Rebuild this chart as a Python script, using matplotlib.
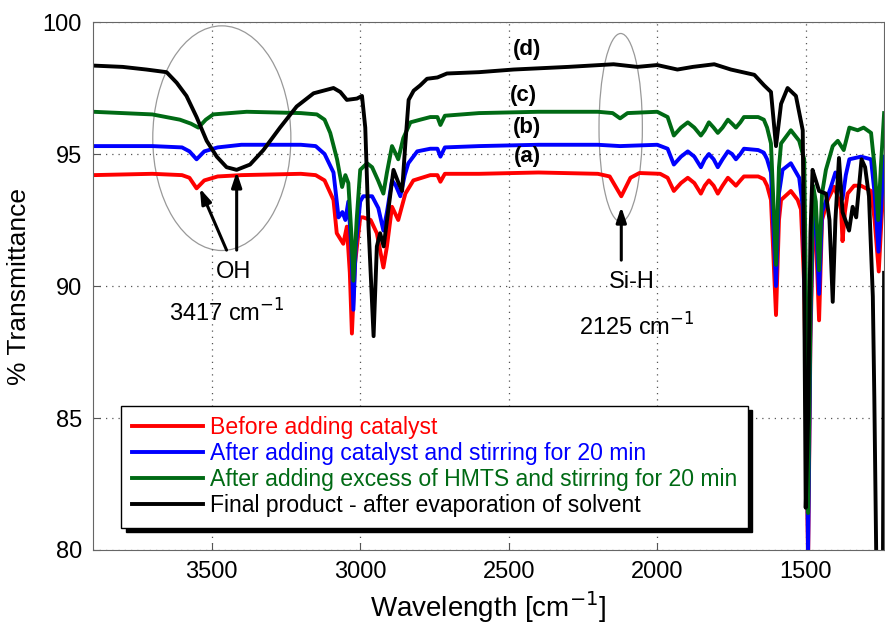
import matplotlib
matplotlib.use("Agg")
import matplotlib.pyplot as plt
from matplotlib.patches import Ellipse

plt.rcParams['font.family'] = ['Liberation Sans', 'DejaVu Sans']

# (a) before adding catalyst
wn_a = [3900, 3700, 3600, 3575, 3551, 3525, 3480, 3400, 3200, 3150, 3120, 3090, 3079, 3057, 3045,
        3035, 3028, 3018, 3000, 2990, 2965, 2944, 2922, 2910, 2893, 2872, 2848, 2821, 2764, 2740,
        2730, 2715, 2600, 2400, 2200, 2160, 2121, 2090, 2060, 1990, 1965, 1944, 1920, 1897, 1875,
        1853, 1840, 1826, 1810, 1796, 1780, 1762, 1748, 1735, 1720, 1708, 1660, 1641, 1630, 1617,
        1600, 1590, 1583, 1550, 1527, 1516, 1505, 1492, 1484, 1475, 1466, 1455, 1445, 1426, 1404,
        1390, 1381, 1376, 1368, 1359, 1337, 1314, 1280, 1268, 1254, 1245, 1236]
tr_a = [94.2, 94.25, 94.2, 94.1, 93.7, 94.0, 94.15, 94.2, 94.25, 94.2, 94.0, 93.26, 92.0, 91.6, 92.25,
        90.5, 88.2, 90.8, 92.6, 92.6, 92.5, 92.0, 90.7, 91.5, 93.0, 92.5, 93.5, 94.0, 94.2, 94.2,
        93.95, 94.25, 94.25, 94.3, 94.25, 94.15, 93.4, 94.1, 94.28, 94.25, 94.1, 93.6, 93.9, 94.1, 93.9,
        93.5, 93.8, 94.0, 93.8, 93.5, 93.8, 94.1, 93.95, 93.8, 94.0, 94.15, 94.15, 94.05, 93.8, 93.26,
        88.9, 92.5, 93.26, 93.6, 93.26, 92.9, 90.0, 79.5, 88.0, 92.3, 92.0, 88.7, 92.5, 93.26, 93.76,
        93.3, 92.9, 91.7, 92.8, 93.5, 93.8, 93.8, 93.6, 92.5, 90.55, 92.5, 94.0]

# (b) after adding catalyst and stirring
wn_b = [3900, 3700, 3600, 3575, 3551, 3525, 3480, 3400, 3200, 3150, 3120, 3090, 3073, 3060, 3050,
        3040, 3030, 3023, 3015, 3000, 2990, 2960, 2939, 2922, 2910, 2893, 2880, 2865, 2850, 2838,
        2808, 2764, 2740, 2730, 2715, 2600, 2400, 2200, 2125, 2000, 1965, 1944, 1920, 1897, 1875,
        1853, 1840, 1826, 1810, 1796, 1780, 1762, 1748, 1735, 1720, 1708, 1660, 1641, 1630, 1617,
        1600, 1590, 1578, 1550, 1522, 1510, 1500, 1492, 1484, 1475, 1466, 1455, 1445, 1415, 1400,
        1385, 1376, 1365, 1353, 1314, 1280, 1268, 1255, 1246, 1236]
tr_b = [95.3, 95.3, 95.25, 95.1, 94.8, 95.1, 95.25, 95.35, 95.35, 95.3, 95.0, 94.3, 92.6, 92.8, 92.5,
        93.2, 91.5, 89.1, 91.5, 93.2, 93.4, 93.4, 92.95, 92.1, 92.8, 94.0, 93.8, 93.4, 94.2, 94.65,
        95.1, 95.2, 95.2, 94.9, 95.25, 95.3, 95.35, 95.35, 95.3, 95.35, 95.2, 94.6, 94.9, 95.1, 94.9,
        94.5, 94.8, 95.0, 94.8, 94.5, 94.8, 95.1, 95.0, 94.8, 95.0, 95.2, 95.15, 95.05, 94.8, 94.3,
        90.0, 93.5, 94.4, 94.65, 94.1, 93.0, 88.0, 79.8, 88.5, 93.0, 92.6, 89.7, 92.8, 93.76, 94.3,
        93.9, 93.3, 94.2, 94.8, 94.9, 94.8, 93.5, 91.3, 93.0, 94.9]

# (c) after adding excess of HMTS
wn_c = [3900, 3700, 3607, 3570, 3545, 3520, 3495, 3382, 3200, 3146, 3120, 3101, 3078, 3061, 3050,
        3040, 3030, 3023, 3012, 3000, 2977, 2960, 2940, 2922, 2910, 2893, 2880, 2872, 2855, 2831,
        2798, 2764, 2740, 2730, 2715, 2600, 2400, 2200, 2150, 2125, 2100, 2000, 1965, 1944, 1920,
        1897, 1875, 1853, 1840, 1826, 1810, 1796, 1780, 1762, 1748, 1735, 1720, 1708, 1660, 1641,
        1630, 1617, 1600, 1590, 1583, 1550, 1522, 1505, 1497, 1492, 1484, 1475, 1466, 1455, 1445,
        1432, 1409, 1392, 1372, 1353, 1325, 1305, 1280, 1268, 1256, 1247, 1236]
tr_c = [96.6, 96.5, 96.3, 96.15, 96.0, 96.3, 96.5, 96.6, 96.55, 96.5, 96.3, 95.8, 94.8, 93.75, 94.2,
        93.9, 92.0, 90.2, 92.5, 94.4, 94.65, 94.5, 94.0, 93.5, 94.3, 95.3, 95.0, 94.8, 95.6, 96.2,
        96.3, 96.4, 96.4, 96.1, 96.45, 96.55, 96.6, 96.6, 96.55, 96.35, 96.55, 96.6, 96.4, 95.7, 96.0,
        96.2, 96.0, 95.7, 95.9, 96.2, 96.0, 95.8, 96.0, 96.3, 96.15, 96.0, 96.2, 96.4, 96.4, 96.3,
        96.0, 95.4, 90.8, 94.5, 95.4, 95.9, 95.5, 94.8, 88.0, 81.4, 89.0, 93.8, 93.2, 90.6, 93.5,
        94.4, 95.3, 95.5, 95.15, 96.0, 95.9, 96.0, 95.8, 94.5, 92.5, 94.5, 96.55]

# (d) final product
wn_d = [3900, 3800, 3720, 3652, 3618, 3585, 3551, 3517, 3483, 3450, 3416, 3371, 3326, 3270, 3214,
        3157, 3090, 3067, 3045, 3011, 2994, 2983, 2972, 2955, 2944, 2933, 2921, 2904, 2888, 2871,
        2859, 2848, 2837, 2820, 2798, 2775, 2740, 2708, 2600, 2484, 2300, 2147, 2067, 2000, 1932,
        1880, 1808, 1752, 1673, 1640, 1617, 1600, 1583, 1561, 1533, 1510, 1505, 1500, 1492, 1484,
        1477, 1466, 1455, 1432, 1420, 1409, 1400, 1388, 1376, 1354, 1342, 1330, 1312, 1300, 1287,
        1274, 1269, 1262, 1248, 1240, 1236]
tr_d = [98.35, 98.3, 98.2, 98.1, 97.7, 97.2, 96.4, 95.5, 94.9, 94.5, 94.4, 94.6, 95.15, 96.0, 96.8,
        97.3, 97.5, 97.35, 97.05, 97.1, 97.2, 96.0, 92.25, 88.1, 91.5, 92.0, 91.5, 93.0, 94.4, 93.9,
        93.6, 95.4, 97.05, 97.4, 97.6, 97.85, 97.9, 98.05, 98.1, 98.2, 98.3, 98.4, 98.3, 98.37, 98.2,
        98.3, 98.4, 98.2, 98.0, 97.6, 97.35, 95.3, 96.9, 97.5, 97.2, 95.9, 90.0, 81.6, 85.0, 92.0,
        94.4, 94.0, 93.6, 93.5, 92.5, 89.4, 92.5, 94.85, 92.8, 92.1, 93.0, 92.6, 94.8, 94.5, 93.4,
        89.6, 85.8, 79.3, 79.0, 79.3, 90.5]

labels = ['Before adding catalyst',
          'After adding catalyst and stirring for 20 min',
          'After adding excess of HMTS and stirring for 20 min',
          'Final product - after evaporation of solvent']
colors = ['#ff0000', '#0000ff', '#006a14', '#000000']
curve_tags = ['(a)', '(b)', '(c)', '(d)']
tag_pos = [(2437, 94.9), (2437, 96.0), (2450, 97.23), (2437, 98.94)]

fig = plt.figure(figsize=(8.85, 6.29), dpi=100)
ax = fig.add_axes([0.105, 0.1256, 0.894, 0.8394])

for wn, tr, c, lab in zip([wn_a, wn_b, wn_c, wn_d], [tr_a, tr_b, tr_c, tr_d], colors, labels):
    ax.plot(wn, tr, color=c, lw=2.8, label=lab, solid_joinstyle='round')

ax.set_xlim(3900, 1236)
ax.set_ylim(80, 100)
ax.set_xticks([3500, 3000, 2500, 2000, 1500])
ax.set_yticks([80, 85, 90, 95, 100])
ax.grid(True, ls=(0, (1, 4)), color='#555555', lw=0.9)
ax.tick_params(direction='in', labelsize=17, length=5, color='#555555', pad=8)
for s in ax.spines.values():
    s.set_color('#666666')
ax.set_xlabel('Wavelength [cm$^{-1}$]', fontsize=20, labelpad=4)
ax.set_ylabel('% Transmittance', fontsize=19, labelpad=8)

for tag, (x, y) in zip(curve_tags, tag_pos):
    ax.text(x, y, tag, fontsize=16, fontweight='bold', ha='center', va='center')

# circled regions
ax.add_patch(Ellipse((3466, 95.6), 465, 8.51, fill=False, ec='#999999', lw=0.9))
ax.add_patch(Ellipse((2123, 96.0), 146, 7.13, fill=False, ec='#999999', lw=0.9))

arrow = dict(arrowstyle='-|>,head_length=0.9,head_width=0.3', color='k', lw=2.2, shrinkA=0, shrinkB=0)
ax.annotate('', xy=(3540, 93.7), xytext=(3450, 91.36), arrowprops=arrow)
ax.annotate('', xy=(3416, 94.33), xytext=(3416, 91.36), arrowprops=arrow)
ax.annotate('', xy=(2121, 93.0), xytext=(2121, 90.98), arrowprops=arrow)

ax.text(3428, 90.54, 'OH', fontsize=17, ha='center', va='center')
ax.text(3450, 88.97, '3417 cm$^{-1}$', fontsize=17, ha='center', va='center')
ax.text(2084, 90.16, 'Si-H', fontsize=17, ha='center', va='center')
ax.text(2069, 88.45, '2125 cm$^{-1}$', fontsize=17, ha='center', va='center')

leg = ax.legend(loc='lower left', bbox_to_anchor=(0.036, 0.042), borderaxespad=0,
                fontsize=16.6, labelcolor='linecolor', fancybox=False,
                shadow={'color': 'black', 'alpha': 1, 'ox': 3, 'oy': -3},
                handlelength=3.1, handletextpad=0.3, labelspacing=0.13,
                borderpad=0.45, framealpha=1)
leg.get_frame().set_edgecolor('black')
leg.get_frame().set_linewidth(1.0)

fig.savefig('out.png', dpi=100)
